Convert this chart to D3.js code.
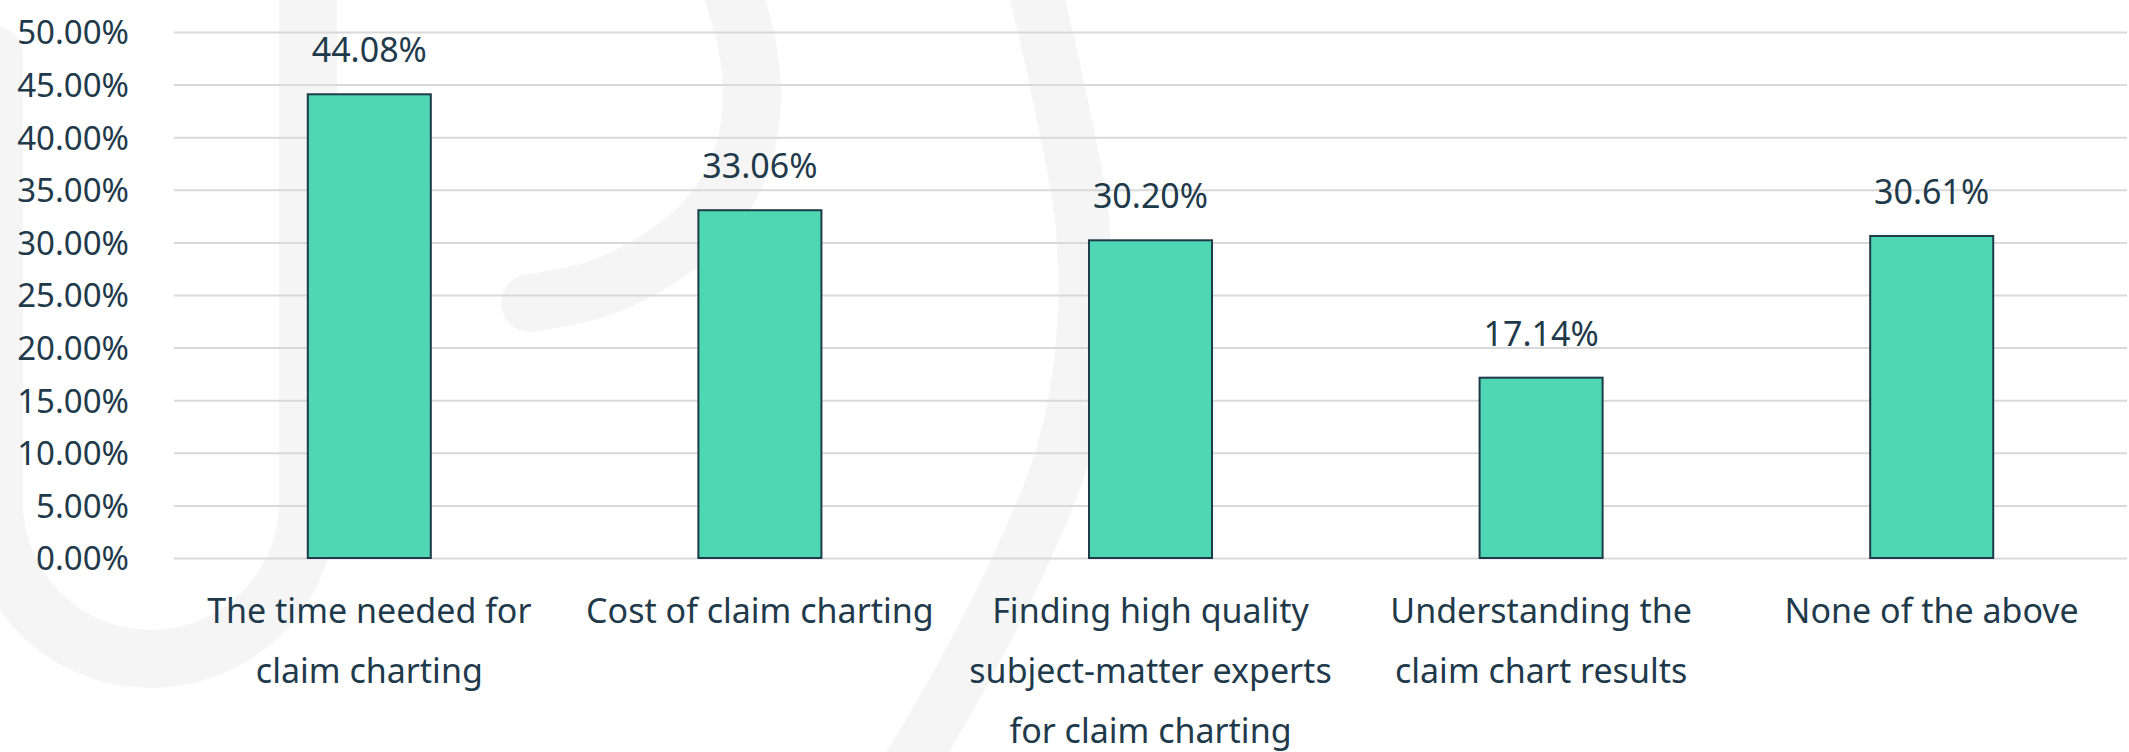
<!DOCTYPE html>
<html>
<head>
<meta charset="utf-8">
<script src="https://cdn.jsdelivr.net/npm/d3@7"></script>
<style>
  html, body { margin: 0; padding: 0; background: #fff; }
  #chart { width: 2129px; height: 752px; }
</style>
</head>
<body>
<div id="chart"></div>
<script>
const categories = [
  "The time needed for claim charting",
  "Cost of claim charting",
  "Finding high quality subject-matter experts for claim charting",
  "Understanding the claim chart results",
  "None of the above"
];
const categoryLines = [
  ["The time needed for", "claim charting"],
  ["Cost of claim charting"],
  ["Finding high quality", "subject-matter experts", "for claim charting"],
  ["Understanding the", "claim chart results"],
  ["None of the above"]
];
const values = [0.4408, 0.3306, 0.3020, 0.1714, 0.3061];
const yTicks = [0, 0.05, 0.10, 0.15, 0.20, 0.25, 0.30, 0.35, 0.40, 0.45, 0.50];

function renderChart() {
  const container = d3.select("#chart");
  container.selectAll("*").remove();

  const W = 2129, H = 752;
  const margin = { top: 32, right: 2, bottom: 194, left: 174 };
  const width = W - margin.left - margin.right;
  const height = H - margin.top - margin.bottom;
  const textColor = "#1f3a4b";
  const font = "'Noto Sans', 'Open Sans', sans-serif";

  const svg = container.append("svg")
    .attr("width", W)
    .attr("height", H);

  // faint watermark logo in the background
  const wm = svg.append("g")
    .attr("fill", "none")
    .attr("stroke", "#f5f5f5")
    .attr("stroke-linecap", "round");
  const curve = d3.line().curve(d3.curveCatmullRom);
  wm.append("path")
    .attr("stroke-width", 58)
    .attr("d", "M-6,55 L-6,502 A157,157 0 0 0 308,502 L308,-40");
  wm.append("path")
    .attr("stroke-width", 58)
    .attr("d", curve([[725, -30], [746, 40], [752, 100], [740, 165], [708, 218], [660, 258], [600, 288], [530, 303]]));
  wm.append("path")
    .attr("stroke-width", 54)
    .attr("d", curve([[1028, -40], [1056, 80], [1082, 220], [1084, 330], [1064, 450], [1026, 548], [965, 670], [895, 790]]));

  const g = svg.append("g")
    .attr("transform", `translate(${margin.left},${margin.top})`);

  const x = d3.scaleBand()
    .domain(categories)
    .range([0, width])
    .paddingInner(0.685)
    .paddingOuter(0.3425);

  const y = d3.scaleLinear()
    .domain([0, 0.5])
    .range([height, 0]);

  // Y axis with gridlines
  g.append("g")
    .call(d3.axisLeft(y).tickValues(yTicks).tickSize(-width).tickPadding(45).tickFormat(d3.format(".2%")))
    .call((a) => a.select(".domain").remove())
    .call((a) => a.selectAll(".tick line").attr("stroke", "#d9d9d9").attr("stroke-width", 2))
    .call((a) => a.selectAll(".tick text")
      .attr("fill", textColor)
      .attr("font-family", font)
      .attr("font-size", "33px")
      .attr("dy", "0.36em"));

  // Bars
  g.selectAll(".bar")
    .data(values)
    .join("rect")
    .attr("class", "bar")
    .attr("x", (d, i) => x(categories[i]))
    .attr("y", (d) => y(d))
    .attr("width", x.bandwidth())
    .attr("height", (d) => height - y(d))
    .attr("fill", "#4fd6b2")
    .attr("stroke", "#1f3a4b")
    .attr("stroke-width", 2);

  // Value labels
  g.selectAll(".value")
    .data(values)
    .join("text")
    .attr("class", "value")
    .attr("x", (d, i) => x(categories[i]) + x.bandwidth() / 2)
    .attr("y", (d) => y(d) - 32)
    .attr("text-anchor", "middle")
    .attr("fill", textColor)
    .attr("font-family", font)
    .attr("font-size", "34px")
    .text(d3.format(".2%"));

  // X labels
  const xl = g.selectAll(".xlabel")
    .data(categoryLines)
    .join("text")
    .attr("class", "xlabel")
    .attr("text-anchor", "middle")
    .attr("fill", textColor)
    .attr("font-family", font)
    .attr("font-size", "34px")
    .attr("transform", (d, i) => `translate(${x(categories[i]) + x.bandwidth() / 2},${height + 65})`);
  xl.selectAll("tspan")
    .data((d) => d)
    .join("tspan")
    .attr("x", 0)
    .attr("y", (d, i) => i * 60)
    .text((d) => d);
}

renderChart();
</script>
</body>
</html>
